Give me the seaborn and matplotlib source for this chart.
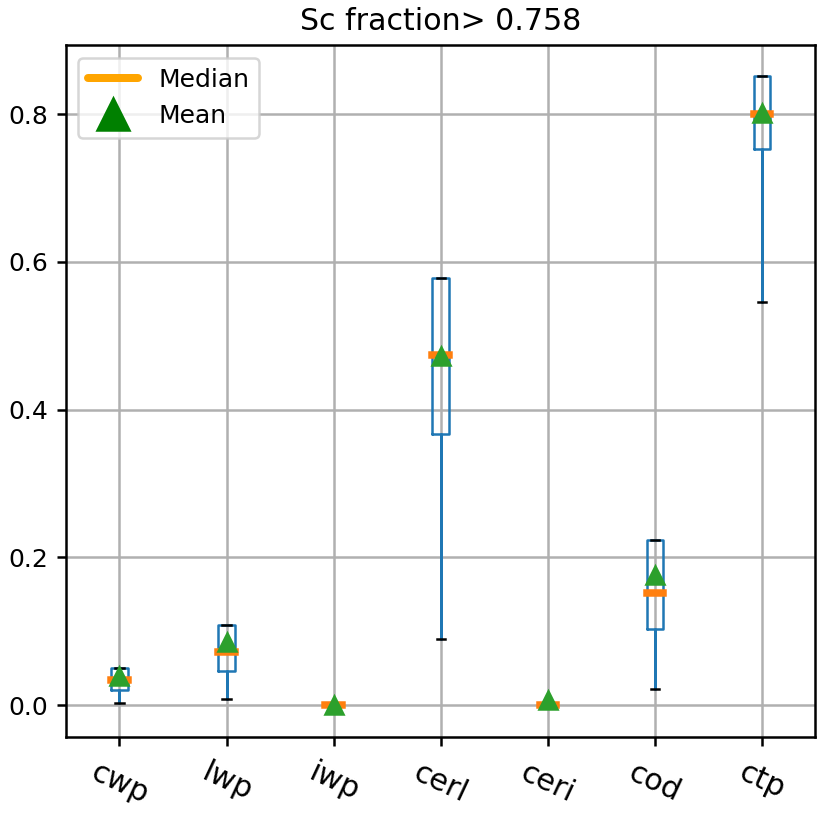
import numpy as np
import seaborn as sns
import matplotlib
matplotlib.use("Agg")
import matplotlib.pyplot as plt
from matplotlib.lines import Line2D

# values
variables = ["cwp", "lwp", "iwp", "cerl", "ceri", "cod", "ctp"]
q1 = [0.0207, 0.0465, 0.0, 0.3665, 0.0, 0.1025, 0.7534]
median = [0.034, 0.072, 0.0, 0.474, 0.0, 0.152, 0.800]
q3 = [0.051, 0.1085, 0.0, 0.578, 0.0, 0.2237, 0.851]
whis_low = [0.0035, 0.0085, 0.0, 0.090, 0.0, 0.0217, 0.546]
whis_high = [0.051, 0.1085, 0.0, 0.578, 0.0, 0.2237, 0.851]
mean = [0.040, 0.086, 0.0005, 0.473, 0.007, 0.1767, 0.802]
sc_threshold = 0.758

sns.set_style("ticks", {"axes.grid": True, "grid.color": "#b0b0b0",
                        "axes.edgecolor": "black", "xtick.color": "black",
                        "ytick.color": "black", "text.color": "black"})
plt.rcParams["font.family"] = ["DejaVu Sans"]
plt.rcParams["axes.linewidth"] = 1.0

stats = []
for i, name in enumerate(variables):
    stats.append({"label": name, "q1": q1[i], "med": median[i], "q3": q3[i],
                  "whislo": whis_low[i], "whishi": whis_high[i],
                  "mean": mean[i], "fliers": []})

fig = plt.figure(figsize=(830 / 180, 814 / 180), dpi=180)
ax = fig.add_axes([0.0795, 0.095, 0.9025, 0.8497])

ax.bxp(stats, widths=0.15, showmeans=True, showfliers=False,
       boxprops=dict(color="#1f77b4", linewidth=1.0),
       whiskerprops=dict(color="#1f77b4", linewidth=1.2),
       capprops=dict(color="black", linewidth=1.0, solid_capstyle="projecting"),
       medianprops=dict(color="#ff7f0e", linewidth=3.0, solid_capstyle="projecting"),
       meanprops=dict(marker="^", markerfacecolor="#2ca02c",
                      markeredgecolor="#2ca02c", markersize=7.5))

ax.grid(True, color="#b0b0b0", linewidth=1.0)
ax.set_axisbelow(True)
ax.set_yticks([0.0, 0.2, 0.4, 0.6, 0.8])
ax.tick_params(axis="y", labelsize=10, width=1.0)
ax.tick_params(axis="x", labelsize=12, labelrotation=-25, width=1.0, pad=5)
for lab in ax.get_xticklabels():
    lab.set_ha("center")
ax.set_title(f"Sc fraction> {sc_threshold}", fontsize=12)

handles = [Line2D([], [], color="orange", linewidth=3.2),
           Line2D([], [], color="green", marker="^", linestyle="none", markersize=13)]
ax.legend(handles, ["Median", "Mean"], loc="upper left", fontsize=10)

fig.savefig("out.png", dpi=180)
